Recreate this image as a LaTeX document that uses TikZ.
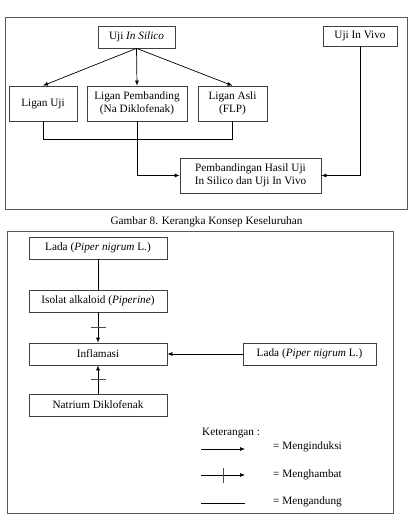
\documentclass[tikz,border=0pt]{standalone}
\usepackage{fontspec}
\setmainfont{Liberation Serif}
\usetikzlibrary{arrows.meta,decorations.markings}
\tikzset{
  kotak/.style 2 args={draw=black!75,line width=0.6pt,minimum width=#1*0.3mm,minimum height=#2*0.3mm,inner sep=1pt,align=center},
  panah/.style={-{Latex[length=1.5mm,width=1.2mm]},line width=0.6pt},
  hambat/.style={panah,postaction={decorate},decoration={markings,mark=at position 0.5 with {\draw[-,line width=0.6pt,black!70] (0,-2.25mm) -- (0,2.25mm);}}},
  bingkai/.style={draw=black!65,line width=0.8pt},
}
\begin{document}
\begin{tikzpicture}[x=0.03cm,y=-0.03cm,font=\fontsize{9.6}{11}\selectfont]
\useasboundingbox (0,0) rectangle (408,514);

% kerangka atas
\draw[bingkai] (5,17) rectangle (407,209);
\node[kotak={77}{22}] (silico) at (136.5,37) {Uji \textit{In Silico}};
\node[kotak={74}{20}] (vivo) at (360,36) {Uji In Vivo};
\node[kotak={68}{35}] (ujiL) at (43,103.5) {Ligan Uji};
\node[kotak={100}{35}] (pemb) at (137,103.5) {Ligan Pembanding\\(Na Diklofenak)};
\node[kotak={69}{35}] (asli) at (232.5,103.5) {Ligan Asli\\(FLP)};
\node[kotak={141}{35}] (hasil) at (250.5,175.5) {Pembandingan Hasil Uji\\In Silico dan Uji In Vivo};

\draw[panah] (silico.south) -- (ujiL.north);
\draw[panah] (silico.south) -- (pemb.north);
\draw[panah] (silico.south) -- (asli.north);
\draw[line width=0.6pt] (ujiL.south) -- ++(0,18) -| (asli.south);
\draw[panah] (pemb.south) |- (hasil.west);
\draw[panah] (vivo.south) |- (hasil.east);

\node (judul) at (206.5,222) {Gambar 8. Kerangka Konsep Keseluruhan};

% kerangka bawah
\draw[bingkai] (7,231) rectangle (393,513);
\node[kotak={138}{22}] (lada1) at (98,248) {Lada (\textit{Piper nigrum} L.)};
\node[kotak={138}{22}] (isolat) at (98,301) {Isolat alkaloid (\textit{Piperine})};
\node[kotak={138}{22}] (inflam) at (98,354) {Inflamasi};
\node[kotak={138}{22}] (natrium) at (98,405) {Natrium Diklofenak};
\node[kotak={133}{22}] (lada2) at (309.5,354) {Lada (\textit{Piper nigrum} L.)};

\draw[line width=0.6pt] (lada1) -- (isolat);
\draw[hambat] (isolat) -- (inflam);
\draw[hambat] (natrium) -- (inflam);
\draw[panah] (lada2) -- (inflam);

% keterangan
\node[anchor=west,inner sep=0pt] (ket) at (202,433) {Keterangan :};
\coordinate (k1a) at (201,449); \coordinate (k1b) at (245,449);
\coordinate (k2a) at (201,475); \coordinate (k2b) at (245,475);
\coordinate (k3a) at (201,503); \coordinate (k3b) at (245,503);
\draw[panah] (k1a) -- (k1b);
\draw[hambat] (k2a) -- (k2b);
\draw[line width=0.6pt] (k3a) -- (k3b);
\node[anchor=west,inner sep=0pt] (induksi) at (273,447) {= Menginduksi};
\node[anchor=west,inner sep=0pt] (hambatT) at (273,475) {= Menghambat};
\node[anchor=west,inner sep=0pt] (kandung) at (273,502) {= Mengandung};
\end{tikzpicture}
\end{document}
